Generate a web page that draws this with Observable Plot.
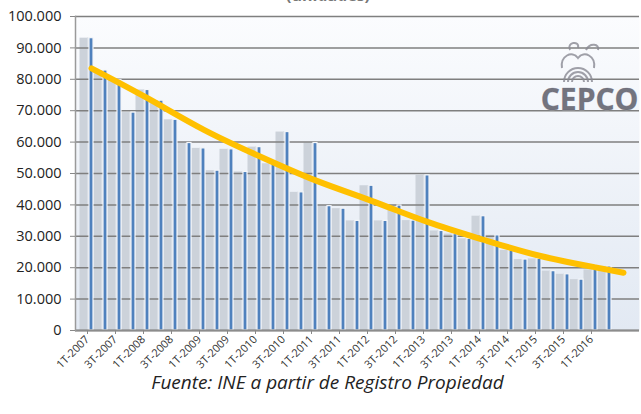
<!DOCTYPE html>
<html>
<head>
<meta charset="utf-8">
<script src="https://cdn.jsdelivr.net/npm/d3@7"></script>
<script src="https://cdn.jsdelivr.net/npm/@observablehq/plot@0.6"></script>
<style>
  body { margin: 0; background: #ffffff; width: 641px; height: 414px; overflow: hidden; font-family: "Open Sans", "Liberation Sans", sans-serif; }
  #title { height: 8px; overflow: hidden; position: relative; }
  #title span { position: absolute; left: 0; width: 656px; text-align: center; top: -16px; font-size: 16px; font-weight: bold; color: #777; }
  #caption { height: 49px; box-sizing: border-box; padding-top: 6px; text-align: center; font-style: italic; font-size: 19px; line-height: 22px; color: #222; padding-left: 14px; }
</style>
</head>
<body>
<div id="title"><span>(unidades)</span></div>
<div id="chart"></div>
<div id="caption">Fuente: INE a partir de Registro Propiedad</div>
<script>
// Categories (quarters); the last one has no bar, only the trend forecast
const quarters = [
  "1T-2007","2T-2007","3T-2007","4T-2007",
  "1T-2008","2T-2008","3T-2008","4T-2008",
  "1T-2009","2T-2009","3T-2009","4T-2009",
  "1T-2010","2T-2010","3T-2010","4T-2010",
  "1T-2011","2T-2011","3T-2011","4T-2011",
  "1T-2012","2T-2012","3T-2012","4T-2012",
  "1T-2013","2T-2013","3T-2013","4T-2013",
  "1T-2014","2T-2014","3T-2014","4T-2014",
  "1T-2015","2T-2015","3T-2015","4T-2015",
  "1T-2016","2T-2016","3T-2016"
];
// Bar values (units)
const values = [
  93100, 82800, 79700, 69400,
  76600, 73200, 67100, 59700,
  58000, 50900, 57700, 50500,
  58400, 53100, 63200, 44000,
  59700, 39600, 38800, 34900,
  46100, 34900, 39800, 35000,
  49400, 31700, 30700, 29200,
  36400, 30300, 25500, 22600,
  22800, 18900, 17900, 16200,
  19300, 20400
];
// Trend line, read at selected quarters
const trendQuarters = ["1T-2007","1T-2008","1T-2009","1T-2010","1T-2011","1T-2012","1T-2013","1T-2014","1T-2015","1T-2016","3T-2016"];
const trendValues   = [83500, 74000, 64000, 55500, 47800, 41300, 34600, 28900, 23800, 20100, 18400];
// Axis ticks
const yTicks = [0, 10000, 20000, 30000, 40000, 50000, 60000, 70000, 80000, 90000, 100000];
const xTickLabels = ["1T-2007","3T-2007","1T-2008","3T-2008","1T-2009","3T-2009","1T-2010","3T-2010","1T-2011","3T-2011","1T-2012","3T-2012","1T-2013","3T-2013","1T-2014","3T-2014","1T-2015","3T-2015","1T-2016"];

const bars = values.map((v, i) => ({q: quarters[i], v}));
const trend = trendQuarters.map((q, i) => ({q, v: trendValues[i]}));
const fmt = d => d3.format(",")(d).replace(/,/g, ".");

const chart = Plot.plot({
  width: 641,
  height: 357,
  marginTop: 8,
  marginLeft: 75,
  marginRight: 2,
  marginBottom: 35,
  style: {fontFamily: "'Open Sans', 'Liberation Sans', sans-serif", background: "transparent", overflow: "visible"},
  x: {domain: quarters, padding: 0, label: null},
  y: {domain: [0, 100000], label: null},
  marks: [
    Plot.frame({fill: "url(#plotbg)", stroke: null}),
    // soft shadow to the left of each bar
    Plot.barY(bars, {x: "q", y: "v", fill: "#ccd2da", insetLeft: 0, insetRight: 5, dx: -4.5}),
    Plot.barY(bars, {x: "q", y: "v", fill: "#d9dee5", insetLeft: 7.5, insetRight: 5, dx: -4.5}),
    Plot.ruleY(yTicks, {stroke: "#7f7f7f", strokeWidth: 1.5}),
    Plot.barY(bars, {x: "q", y: "v", fill: "#4f81bd", stroke: "#f4f6f9", strokeWidth: 1.2, insetLeft: 5, insetRight: 5}),
    Plot.ruleY([0], {stroke: "#8c8c8c", strokeWidth: 2}),
    Plot.frame({anchor: "left", stroke: "#9a9a9a", strokeWidth: 1.5}),
    Plot.line(trend, {x: "q", y: "v", stroke: "#ffc000", strokeWidth: 6, curve: "natural", strokeLinecap: "round"}),
    Plot.axisY(yTicks, {tickFormat: fmt, fontSize: 14.5, tickSize: 5, tickPadding: 9, color: "#222", stroke: "#888", label: null}),
    Plot.axisX(xTickLabels, {tickRotate: -45, fontSize: 11, tickSize: 4, tickPadding: 3, dx: -4, color: "#333", stroke: "#888", label: null}),
    Plot.text(["CEPCO"], {frameAnchor: "top-right", dx: -1, dy: 84, textAnchor: "end", lineAnchor: "middle", fontSize: 30, fontWeight: "bold", fill: "#5c5c68", fillOpacity: 0.85, stroke: "#b0b0ba", strokeWidth: 0.6, letterSpacing: 3})
  ]
});

// background gradient and a simple logo emblem
const s = d3.select(chart);
const defs = s.insert("defs", ":first-child");
const g = defs.append("linearGradient").attr("id", "plotbg").attr("x1", 0).attr("y1", 0).attr("x2", 0).attr("y2", 1);
g.append("stop").attr("offset", "0%").attr("stop-color", "#fbfcfe");
g.append("stop").attr("offset", "100%").attr("stop-color", "#e2e9f3");
const logo = s.append("g").attr("fill", "none").attr("stroke", "#8a8a94").attr("stroke-width", 2).attr("opacity", 0.8);
[6, 10, 14].forEach(r => logo.append("path").attr("d", `M ${578 - r} 74 A ${r} ${r} 0 0 1 ${578 + r} 74`));
logo.append("path").attr("d", "M 562 60 C 560 48, 572 42, 578 50 C 584 42, 596 48, 594 60");
logo.append("path").attr("d", "M 570 42 C 566 34, 580 32, 578 40 M 586 42 C 590 34, 600 36, 598 42");

document.getElementById("chart").appendChild(chart);
</script>
</body>
</html>
